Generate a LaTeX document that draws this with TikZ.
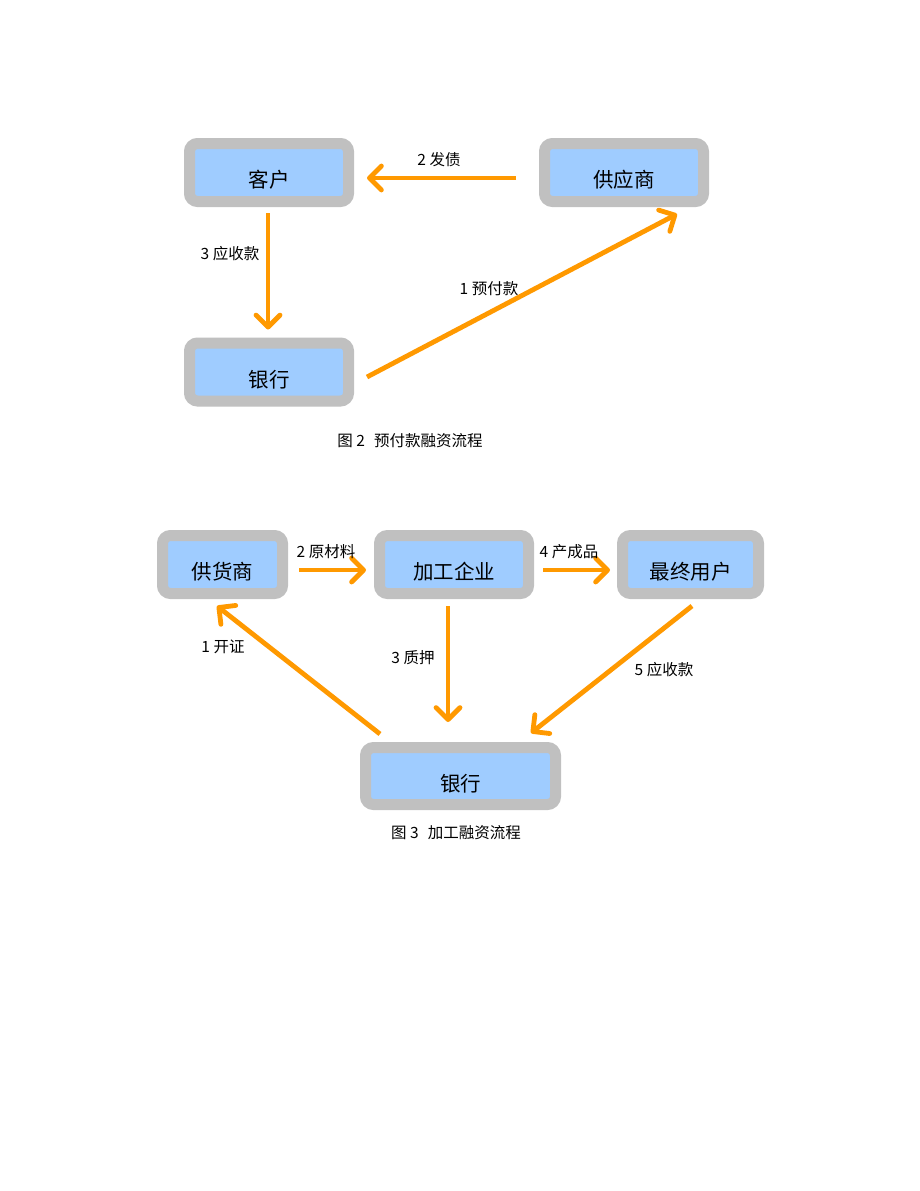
\documentclass[tikz,border=0pt]{standalone}
\usepackage{fontspec}
\setmainfont{Noto Sans CJK SC}
\usetikzlibrary{arrows.meta,calc}
\definecolor{boxgray}{HTML}{C0C0C0}
\definecolor{boxblue}{HTML}{9FCCFF}
\definecolor{arrorange}{HTML}{FF9900}
\tikzset{
  flowbox/.style={draw=boxgray, fill=boxblue, line width=11pt, rounded corners=8pt,
    minimum height=58pt, inner sep=0pt, text height=30pt, text depth=0pt,
    font=\fontsize{20.5}{24}\selectfont},
  flowarr/.style={draw=arrorange, line width=4.8pt,
    -{Straight Barb[length=12pt,width=24pt,round]}},
  lbl/.style={font=\fontsize{15.5}{18}\selectfont, inner sep=0pt},
  capt/.style={font=\fontsize{15.5}{18}\selectfont, inner sep=0pt}
}
\begin{document}
\begin{tikzpicture}[x=1pt,y=-1pt]
\useasboundingbox (0,0) rectangle (920,1191);
\fill[white] (0,0) rectangle (920,1191);
% ---------- Figure 2 ----------
\node[flowbox, minimum width=159pt] (kehu) at (269,172.5) {客户};
\node[flowbox, minimum width=159pt] (gys) at (624,172.5) {供应商};
\node[flowbox, minimum width=159pt] (bank2) at (269,372) {银行};
\draw[flowarr] ($(gys.west)+(-23,5.5)$) -- ($(kehu.east)+(13,5.5)$);
\draw[flowarr] ($(kehu.south)+(-1,6)$) -- ($(bank2.north)+(-1,-8)$);
\draw[flowarr] ($(bank2.east)+(13,5)$) -- ($(gys.south)+(53,7)$);
\node[lbl] (l2a) at (439,160) {2 发债};
\node[lbl] (l3a) at (230,254) {3 应收款};
\node[lbl] (l1a) at (489,289) {1 预付款};
\node[capt] (cap2) at (410,441) {图 2\hspace{0.6em}预付款融资流程};
% ---------- Figure 3 ----------
\node[flowbox, minimum width=120pt] (ghs) at (222.5,564.5) {供货商};
\node[flowbox, minimum width=149pt] (jg) at (454,564.5) {加工企业};
\node[flowbox, minimum width=136pt] (zz) at (690.5,564.5) {最终用户};
\node[flowbox, minimum width=190pt, minimum height=57pt] (bank3) at (460.5,776) {银行};
\draw[flowarr] ($(ghs.east)+(11,5.5)$) -- ($(jg.west)+(-8,5.5)$);
\draw[flowarr] ($(jg.east)+(9,5.5)$) -- ($(zz.west)+(-7,5.5)$);
\draw[flowarr] ($(jg.south)+(-6,7)$) -- ($(bank3.north)+(-12.5,-20)$);
\draw[flowarr] ($(bank3.north)+(-80.5,-8)$) -- ($(ghs.south)+(-5.5,7)$);
\draw[flowarr] ($(zz.south)+(1.5,7)$) -- ($(bank3.north)+(70.5,-9)$);
\node[lbl] (l2b) at (326,552) {2 原材料};
\node[lbl] (l4b) at (569,552) {4 产成品};
\node[lbl] (l1b) at (223,647) {1 开证};
\node[lbl] (l3b) at (413,658) {3 质押};
\node[lbl] (l5b) at (664,670) {5 应收款};
\node[capt] (cap3) at (456,833) {图 3\hspace{0.6em}加工融资流程};
\end{tikzpicture}
\end{document}
